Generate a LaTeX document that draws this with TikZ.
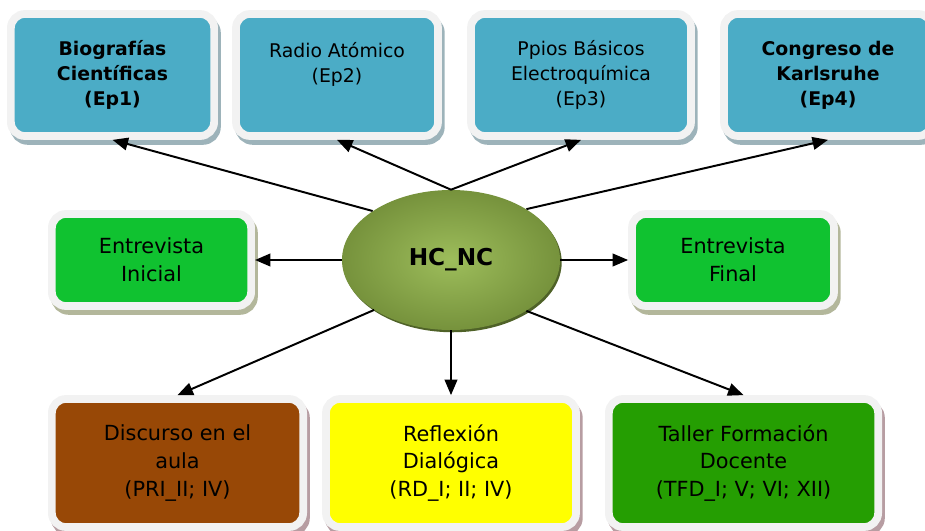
\documentclass[tikz,border=0pt]{standalone}
\usepackage{fontspec}
\setmainfont{DejaVu Sans}
\usepackage{tikz}
\usetikzlibrary{positioning, shapes.geometric, arrows.meta}
\definecolor{framec}{HTML}{F2F2F2}
\definecolor{epblue}{HTML}{4BACC6}
\definecolor{entgreen}{HTML}{10C230}
\definecolor{discbrown}{HTML}{984806}
\definecolor{reflyellow}{HTML}{FFFF00}
\definecolor{tallgreen}{HTML}{259E02}
\definecolor{olivelight}{HTML}{9DBD5B}
\definecolor{olivedark}{HTML}{76923C}
\definecolor{olivedeep}{HTML}{4F6228}
\definecolor{shblue}{HTML}{9DB3BA}
\definecolor{shgreen}{HTML}{B3B79B}
\definecolor{shred}{HTML}{B79DA2}
\tikzset{
    framebox/.style={rectangle, rounded corners=10pt, draw=framec, line width=5.5pt,
        align=center, inner sep=0pt, text=black},
    boxshadow/.style={preaction={draw=#1, fill=#1, transform canvas={xshift=2pt, yshift=-3.5pt}}},
    epbox/.style={framebox, boxshadow=shblue, fill=epblue, minimum height=3.05cm,
        font=\fontsize{13.4}{17.7}\selectfont},
    entbox/.style={framebox, boxshadow=shgreen, fill=entgreen, minimum height=2.3cm,
        font=\fontsize{14.8}{19.8}\selectfont},
    srcbox/.style={framebox, boxshadow=shred, minimum height=3.2cm,
        font=\fontsize{14.8}{19.8}\selectfont},
    hcnode/.style={ellipse, minimum width=5.45cm, minimum height=3.5cm, inner sep=0pt,
        inner color=olivelight, outer color=olivedark,
        preaction={fill=olivedeep, transform canvas={xshift=1.2pt, yshift=-1.6pt}},
        font=\bfseries\fontsize{16.5}{19}\selectfont},
    link/.style={line width=1.4pt, -{Triangle[length=11pt, width=9pt]}}
}
\begin{document}
\begin{tikzpicture}[x=0.025cm, y=-0.025cm]
    \useasboundingbox (0,0) rectangle (925,531);

    \node[epbox, minimum width=5.08cm] (ep1) at (112.5,75)
        {\textbf{Biografías}\\\textbf{Científicas}\\\textbf{(Ep1)}};
    \node[epbox, minimum width=5.05cm] (ep2) at (337,75)
        {Radio Atómico\\(Ep2)\\\mbox{}};
    \node[epbox, minimum width=5.5cm] (ep3) at (581,75)
        {Ppios Básicos\\Electroquímica\\(Ep3)};
    \node[epbox, minimum width=5.2cm] (ep4) at (828,75)
        {\textbf{Congreso de}\\\textbf{Karlsruhe}\\\textbf{(Ep4)}};

    \node[entbox, minimum width=4.98cm] (inicial) at (151.5,260) {Entrevista\\Inicial};
    \node[hcnode] (hc) at (451,260) {HC\_NC};
    \node[entbox, minimum width=5.05cm] (final) at (733,260) {Entrevista\\Final};

    \node[srcbox, fill=discbrown, minimum width=6.28cm] (disc) at (177.5,463)
        {Discurso en el\\aula\\(PRI\_II; IV)};
    \node[srcbox, fill=reflyellow, minimum width=6.25cm] (refl) at (451,463)
        {Reflexión\\Dialógica\\(RD\_I; II; IV)};
    \node[srcbox, fill=tallgreen, minimum width=6.73cm] (taller) at (743.5,463)
        {Taller Formación\\Docente\\(TFD\_I; V; VI; XII)};

    \draw[link] (hc.148) -- (ep1.south);
    \draw[link] (hc.north) -- (ep2.south);
    \draw[link] (hc.north) -- (ep3.south);
    \draw[link] (hc.34) -- (ep4.south);
    \draw[link] (hc.west) -- (inicial.east);
    \draw[link] (hc.east) -- (final.west);
    \draw[link] (hc.213) -- (disc.north);
    \draw[link] (hc.south) -- (refl.north);
    \draw[link] (hc.326) -- (taller.north);
\end{tikzpicture}
\end{document}
